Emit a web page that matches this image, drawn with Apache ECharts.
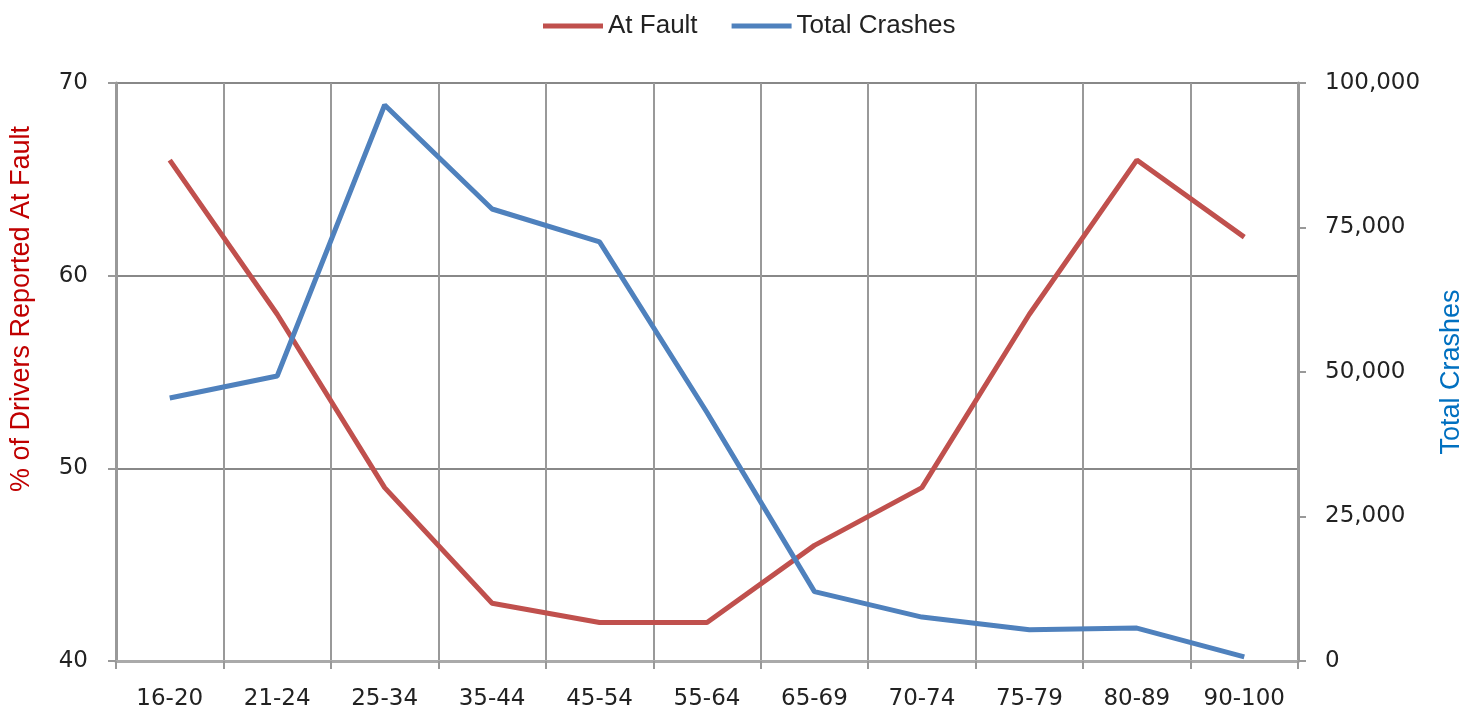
<!DOCTYPE html>
<html>
<head>
<meta charset="utf-8">
<script src="https://cdn.jsdelivr.net/npm/echarts@6/dist/echarts.min.js"></script>
<style>
  html, body { margin: 0; padding: 0; background: #fff; }
  #chart { width: 1470px; height: 714px; }
</style>
</head>
<body>
<div id="chart"></div>
<script>
var ageGroups = ['16-20', '21-24', '25-34', '35-44', '45-54', '55-64', '65-69', '70-74', '75-79', '80-89', '90-100'];
var atFault = [66, 58, 49, 43, 42, 42, 46, 49, 58, 66, 62];
var totalCrashes = [45500, 49300, 96200, 78200, 72500, 43000, 12000, 7600, 5400, 5700, 700];

var chart = echarts.init(document.getElementById('chart'));

var tickFont = { fontFamily: 'DejaVu Sans', fontSize: 23, color: '#222' };
var titleFont = 'Liberation Sans';

var option = {
    animation: false,
    legend: {
        top: 8,
        left: 538,
        itemWidth: 60,
        itemHeight: 5,
        itemGap: 34,
        icon: 'rect',
        textStyle: { fontFamily: titleFont, fontSize: 26, color: '#222' },
        data: ['At Fault', 'Total Crashes']
    },
    grid: { left: 116, right: 172, top: 83, bottom: 53, outerBoundsMode: 'none' },
    xAxis: {
        type: 'category',
        data: ageGroups,
        boundaryGap: true,
        axisLine: { lineStyle: { color: '#aaa', width: 3 } },
        axisTick: { show: true, length: 8, lineStyle: { color: '#999', width: 2 } },
        axisLabel: Object.assign({ margin: 27 }, tickFont),
        splitLine: { show: true, lineStyle: { color: '#999', width: 2 } }
    },
    yAxis: [
        {
            type: 'value',
            min: 40,
            max: 70,
            interval: 10,
            name: '% of Drivers Reported At Fault',
            nameLocation: 'middle',
            nameGap: 81,
            nameRotate: 90,
            nameTextStyle: { fontFamily: titleFont, fontSize: 27, color: '#c00000', padding: [0, 0, 0, 126] },
            axisLine: { show: true, lineStyle: { color: '#999', width: 3 } },
            axisTick: { show: true, length: 8, lineStyle: { color: '#999', width: 2 } },
            axisLabel: Object.assign({ margin: 28 }, tickFont),
            splitLine: { show: true, lineStyle: { color: '#888', width: 2 } }
        },
        {
            type: 'value',
            min: 0,
            max: 100000,
            interval: 25000,
            position: 'right',
            name: 'Total Crashes',
            nameLocation: 'middle',
            nameGap: 140,
            nameRotate: 90,
            nameTextStyle: { fontFamily: titleFont, fontSize: 27, color: '#0070c0' },
            axisLine: { show: true, lineStyle: { color: '#999', width: 3 } },
            axisTick: { show: true, length: 8, lineStyle: { color: '#999', width: 2 } },
            axisLabel: Object.assign({
                margin: 27,
                formatter: function (v) { return v.toLocaleString('en-US'); }
            }, tickFont),
            splitLine: { show: false }
        }
    ],
    series: [
        {
            name: 'At Fault',
            type: 'line',
            yAxisIndex: 0,
            data: atFault,
            symbol: 'none',
            lineStyle: { color: '#c0504d', width: 5 },
            itemStyle: { color: '#c0504d' }
        },
        {
            name: 'Total Crashes',
            type: 'line',
            yAxisIndex: 1,
            data: totalCrashes,
            symbol: 'none',
            lineStyle: { color: '#4f81bd', width: 5 },
            itemStyle: { color: '#4f81bd' }
        }
    ]
};

chart.setOption(option);
</script>
</body>
</html>
